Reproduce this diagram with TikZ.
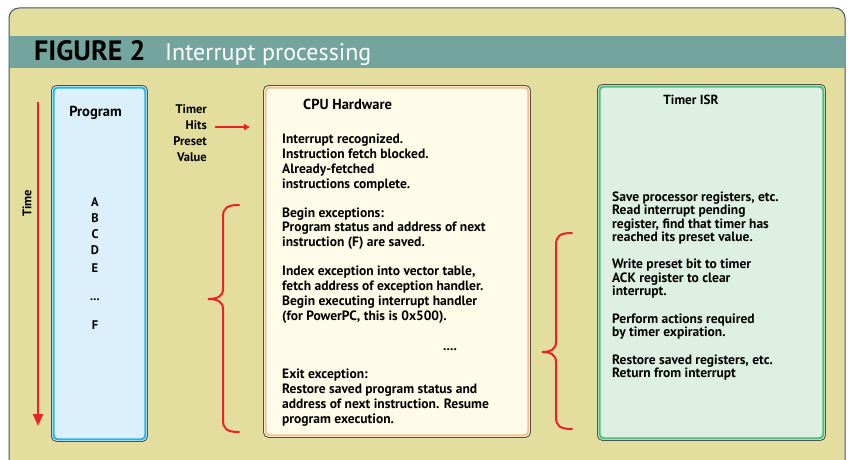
\documentclass[tikz,border=0pt]{standalone}
\usepackage{fontspec}
\setmainfont{PT Sans}
\usetikzlibrary{arrows.meta}
\definecolor{khaki}{RGB}{227,222,158}
\definecolor{teal}{RGB}{115,165,158}
\definecolor{framec}{RGB}{60,85,115}
\definecolor{progfill}{RGB}{220,240,251}
\definecolor{progline}{RGB}{40,180,234}
\definecolor{cpufill}{RGB}{254,251,232}
\definecolor{cpuline}{RGB}{246,192,140}
\definecolor{isrfill}{RGB}{222,239,227}
\definecolor{isrline}{RGB}{76,190,122}
\definecolor{boxedge}{RGB}{80,80,80}
\definecolor{redc}{RGB}{232,34,40}
\tikzset{
  outerbox/.style={draw=boxedge, line width=0.9pt, rounded corners=5pt, anchor=north west, inner sep=0pt},
  innerline/.style={line width=2pt, rounded corners=4pt},
  bodytext/.style={anchor=base west, inner sep=0pt, align=left, font=\fontsize{13.5}{14.7}\selectfont\bfseries},
  isrtext/.style={anchor=base west, inner sep=0pt, align=left, font=\fontsize{13.5}{13.4}\selectfont\bfseries},
  letter/.style={anchor=base, inner sep=0pt, font=\fontsize{12.5}{12}\selectfont\bfseries},
  redbrace/.style={draw=redc, line width=2pt, line cap=round},
  redarrow/.style={draw=redc, line width=1.6pt}
}
\begin{document}
\begin{tikzpicture}[x=1pt,y=-1pt]
\useasboundingbox (0,0) rectangle (848,460);
\begin{scope}
\clip (0,0) rectangle (848,460);
\draw[fill=khaki, draw=framec, line width=1pt, rounded corners=10pt] (9,480) -- (9,8) -- (845,8) -- (845,480);
\end{scope}
\fill[teal] (9.5,36) rectangle (844.5,68);
\node[anchor=base west, inner sep=0pt, font=\fontsize{28}{28}\selectfont\bfseries] (fig) at (34,60) {FIGURE 2};
\node[anchor=base west, inner sep=0pt, text=white, font=\fontsize{24}{24}\selectfont] (ttl) at (165,60) {Interrupt processing};

% Program box
\node[outerbox, fill=progfill, minimum width=96pt, minimum height=356pt] (prog) at (51,85) {};
\draw[innerline, progline] ([shift={(2.6,2.6)}]prog.north west) rectangle ([shift={(-2.6,-2.6)}]prog.south east);
\node[anchor=base, inner sep=0pt, font=\fontsize{14.5}{14}\selectfont\bfseries] (progt) at (95.5,116) {Program};
\node[letter] (la) at (95,206) {A};
\node[letter] (lb) at (95,222) {B};
\node[letter] (lc) at (95,238.5) {C};
\node[letter] (ld) at (95,254.5) {D};
\node[letter] (le) at (95,272) {E};
\node[letter] (ldots) at (95,300) {...};
\node[letter] (lf) at (95,329) {F};

% Time arrow
\coordinate (t0) at (38,102);
\coordinate (t1) at (38,426);
\draw[redarrow, line width=2pt, -{Triangle[length=12pt,width=10pt]}] (t0) -- (t1);
\node[rotate=90, inner sep=0pt, font=\fontsize{12.5}{12}\selectfont\bfseries] (time) at (27,203.5) {Time};

% Timer hits preset value
\node[anchor=base east, inner sep=0pt, align=right, font=\fontsize{12.5}{16}\selectfont\bfseries] (timer) at (207,161) {Timer\\Hits\\Preset\\Value};
\coordinate (a0) at (215,127);
\coordinate (a1) at (250,127);
\draw[redarrow, -{Triangle[length=6pt,width=6pt]}] (a0) -- (a1);

% CPU box
\node[outerbox, fill=cpufill, minimum width=267pt, minimum height=352pt] (cpu) at (263,85) {};
\draw[innerline, cpuline] ([shift={(2.6,2.6)}]cpu.north west) rectangle ([shift={(-2.6,-2.6)}]cpu.south east);
\node[anchor=base west, inner sep=0pt, font=\fontsize{14.5}{14}\selectfont\bfseries] (cput) at (303,109) {CPU Hardware};
\node[bodytext] (c1) at (282,188) {Interrupt recognized.\\Instruction fetch blocked.\\Already-fetched\\instructions complete.};
\node[bodytext] (c2) at (282,246.5) {Begin exceptions:\\Program status and address of next\\instruction (F) are saved.};
\node[bodytext] (c3) at (282,320) {Index exception into vector table,\\fetch address of exception handler.\\Begin executing interrupt handler\\(for PowerPC, this is 0x500).};
\node[bodytext] (c4) at (443,350) {....};
\node[bodytext] (c5) at (282,423) {Exit exception:\\Restore saved program status and\\address of next instruction. Resume\\program execution.};

% Timer ISR box
\node[outerbox, fill=isrfill, minimum width=228pt, minimum height=356pt] (isr) at (597,84) {};
\draw[innerline, isrline] ([shift={(2.6,2.6)}]isr.north west) rectangle ([shift={(-2.6,-2.6)}]isr.south east);
\node[anchor=base, inner sep=0pt, font=\fontsize{13.2}{13}\selectfont\bfseries] (isrt) at (691,104) {Timer ISR};
\node[isrtext] (i1) at (612,241.5) {Save processor registers, etc.\\Read interrupt pending\\register, find that timer has\\reached its preset value.};
\node[isrtext] (i2) at (612,295.5) {Write preset bit to timer\\ACK register to clear\\interrupt.};
\node[isrtext] (i3) at (612,336.5) {Perform actions required\\by timer expiration.};
\node[isrtext] (i4) at (612,377.5) {Restore saved registers, etc.\\Return from interrupt};

% Braces
\draw[redbrace] (239,205) .. controls (227,205) and (223,208) .. (223,217) -- (223,289) .. controls (223,296) and (218,299) .. (208,299) .. controls (218,299) and (223,302) .. (223,309) -- (223,420) .. controls (223,429) and (227,432) .. (239,432);
\draw[redbrace] (572,233) .. controls (560,233) and (556,236) .. (556,245) -- (556,342) .. controls (556,349) and (551,352) .. (542,352) .. controls (551,352) and (556,355) .. (556,362) -- (556,417) .. controls (556,426) and (560,429) .. (572,429);
\end{tikzpicture}
\end{document}
